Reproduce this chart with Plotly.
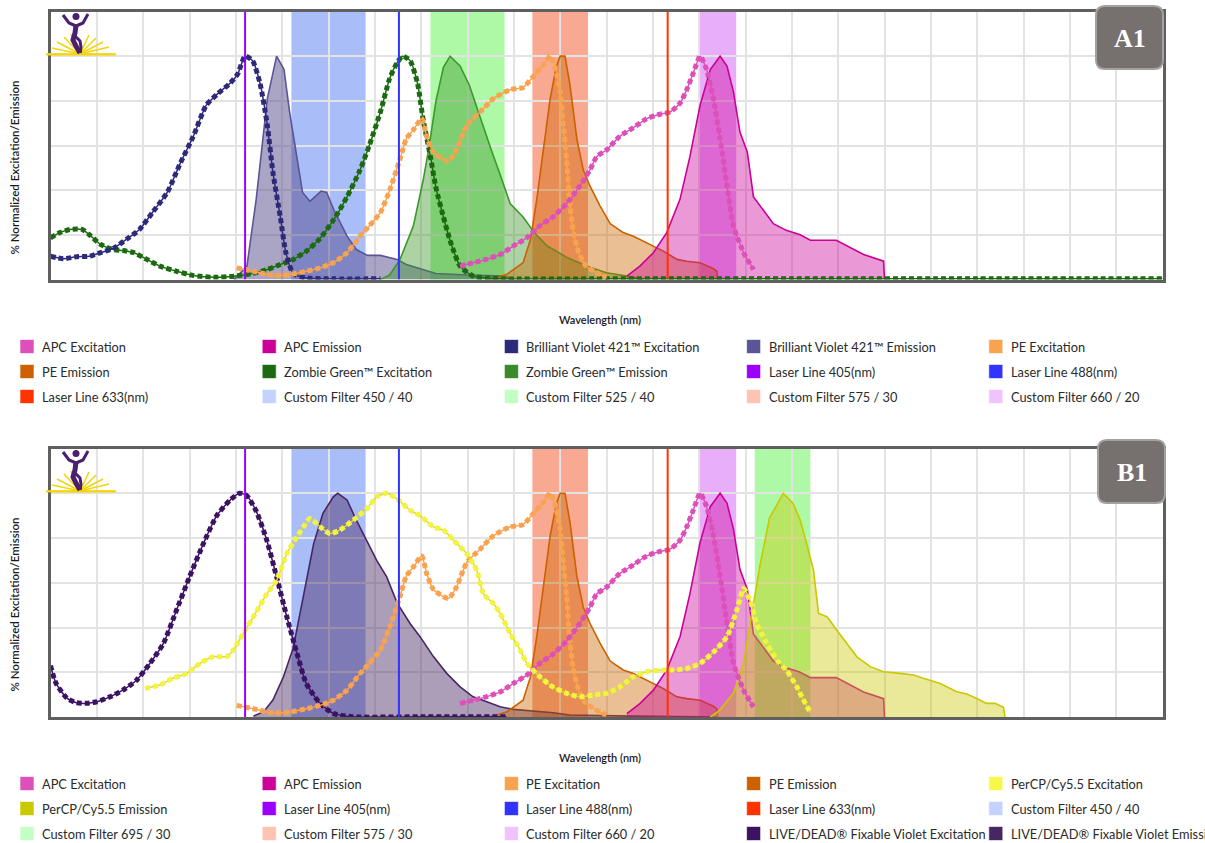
import plotly.graph_objects as go

# ======================= DATA =======================
# Panel A1 ------------------------------------------------
bv_ex_wl = [300, 307, 314, 321, 327, 334, 341, 348, 355, 363, 370, 377, 384, 390, 397, 401, 405, 409, 413, 417, 420, 424, 427, 431, 438, 453, 478]
bv_ex_v = [10.4, 9.3, 10.2, 10.4, 12, 14, 18, 22.4, 30, 39, 52, 64, 78, 83, 88, 92, 100, 98, 88, 69, 48, 28, 12, 2.7, 0.7, 0.3, 0.3]

bv_em_wl = [399, 406, 411, 417, 422, 426, 429, 433, 436, 440, 446, 449, 453, 456, 460, 465, 471, 478, 487, 492, 501, 508, 525, 545, 550]
bv_em_v = [0, 6, 36, 81, 100, 94, 75, 55, 39, 35, 39.6, 39, 31, 26, 19.4, 13.4, 10.8, 10.8, 9, 6.7, 4.5, 2.7, 2, 1.5, 0]

zg_ex_wl = [300, 305, 310.5, 317, 321, 327, 334, 339, 345, 352, 359, 368, 377, 388, 399, 409, 417, 424, 431, 438, 445, 453, 460, 467, 472, 478, 483, 487, 490, 494, 498, 501, 505, 508, 512, 516, 521, 528, 535, 543, 600, 700, 800, 900]
zg_ex_v = [18.7, 21, 22.4, 22.4, 20, 15.7, 13.4, 13, 12, 9, 6, 3.7, 1.8, 1, 1.5, 2.7, 4.5, 6.7, 9, 12.7, 18, 27, 37, 49, 60, 75, 90, 97, 100, 98, 88, 72, 55, 41, 28, 16.4, 6, 1.5, 0.7, 0.3, 0.3, 0.3, 0.3, 0.3]

zg_em_wl = [478, 483, 488.6, 495.8, 501.2, 504, 508, 512, 515.6, 521, 526, 532, 537, 543, 548, 555, 561, 568, 579, 589, 600, 611, 616, 620]
zg_em_v = [0, 2, 9, 24, 45, 58, 80, 95, 100, 95.6, 87, 72, 60, 46, 34, 28, 21, 15, 9.7, 6, 3, 1.5, 0.7, 0]

pe_ex_wl = [400.5, 409.5, 420, 429, 438, 445.5, 452.6, 460, 467, 472, 478, 483, 488.6, 492, 495.8, 500.3, 503, 506.6, 514.7, 519, 524.6, 531.8, 539, 548, 555, 560.6, 566, 569.6, 572, 575, 576.7, 578.5, 580, 582, 585, 589, 596.5, 600]
pe_ex_v = [5.2, 3.7, 1.8, 2.2, 3.7, 5.2, 7.5, 12, 19.4, 24, 30, 40, 54, 63, 67, 72, 64, 57, 53, 58, 69, 75, 81, 85, 86, 91, 96, 100, 95.6, 84, 69, 54, 36, 22, 12, 6, 2.2, 1]

pe_em_wl = [537, 546, 555, 559, 562.4, 566, 569.6, 573, 575, 577.6, 580.3, 584, 587.5, 591, 596.5, 602, 609, 614.5, 621.7, 630.7, 638, 643.3, 650.5, 657.7, 659.5, 660]
pe_em_v = [0, 2.2, 7.5, 18, 36, 58, 81, 95.6, 100, 100, 87, 63, 49, 42, 33, 25, 21, 19.4, 16.4, 12.7, 9, 8.2, 7.5, 4.8, 3.7, 0]

apc_ex_wl = [521, 528, 535, 542.6, 549.8, 557, 564, 571, 578.5, 585.7, 591, 594.7, 600, 607, 614.5, 621.7, 628.9, 634.3, 639.7, 643.3, 646.9, 650.5, 654, 657.7, 661.3, 665, 668.5, 674, 679.3]
apc_ex_v = [6, 7.5, 9, 11.2, 15, 18.7, 24, 28, 34, 42, 49, 55, 58, 64, 68, 72, 74, 75, 79, 85, 92.6, 100, 94, 81, 63, 42, 24, 12, 4.5]

apc_em_wl = [611, 618, 625.3, 632.5, 639.7, 645, 650.5, 656, 661.3, 665, 668.5, 672, 676, 679.3, 684.7, 690, 697, 704.5, 710, 724, 738.7, 749.5, 750]
apc_em_v = [1.5, 6, 12, 21, 36, 55, 78, 94, 100, 95.6, 84, 66, 57, 37, 31, 25, 22, 20, 17.6, 17.6, 11.2, 8.2, 0]

# Panel B1 ------------------------------------------------
ld_ex_wl = [300, 303, 309, 314, 319.5, 325, 332, 339, 346.5, 353.7, 361, 368, 375, 382.5, 389.7, 397, 402, 405.8, 411, 416.7, 422, 427.5, 433, 438, 445.5, 452.6, 463, 500, 546]
ld_ex_v = [23, 15, 8.3, 6.4, 6.1, 6.8, 9, 12, 16.5, 24, 33, 47.8, 62.6, 77.5, 90, 97, 100, 99, 92, 79, 62.6, 44.8, 28.4, 15, 6, 1.6, 0.1, 0.1, 0.1]

ld_em_wl = [409.5, 415, 420, 425.7, 431, 436.5, 442, 447, 452.6, 455, 460, 465, 470.6, 476, 481.4, 487, 494, 499.4, 506.6, 513.8, 521, 528, 535.4, 542.6, 549.8, 560.6, 571.3, 580.3, 596.5, 614, 650, 660]
ld_em_v = [0.4, 2.4, 7.6, 18, 31, 53.7, 77.5, 91, 98.4, 100, 97, 88, 79, 70, 62.6, 51, 41.8, 35.9, 27, 19.5, 13.5, 9, 6.8, 4.6, 3.4, 2.8, 1.9, 0.9, 0.6, 0.4, 0.1, 0]

pcp_ex_wl = [351, 359, 366, 373.5, 380.7, 388, 395, 398.7, 404, 409.5, 416.7, 422, 427.5, 433, 436.5, 440, 445.5, 450.8, 456, 463.4, 470.6, 476, 481.4, 486.8, 494, 499.4, 506.6, 512, 517.4, 524.6, 530, 533.6, 539, 542.6, 548, 553.4, 557, 564, 571, 578.5, 585.7, 593, 600, 607.3, 614.5, 621.7, 629, 636, 643.3, 650.5, 657.7, 665, 670.3, 674, 677.5, 681, 686.5, 692, 697, 702.7, 706, 710]
pcp_ex_v = [12.8, 14.3, 17.3, 19.5, 24, 27, 27, 30, 37.4, 44.8, 55, 61, 73, 80.5, 85, 88.7, 85, 82, 83.5, 88, 93, 98.4, 100, 97.6, 92.4, 90, 85, 83.5, 79, 73, 65.6, 55, 50.7, 46.3, 37.4, 30, 24, 18, 13.5, 10.6, 9, 9.8, 10.6, 13.5, 18, 20.2, 21, 21, 21.7, 24, 29, 35.9, 47.8, 57.4, 52, 41.8, 32.9, 25.4, 21, 13.5, 8, 2]

pcp_em_wl = [656, 661, 668.5, 674, 677.5, 683, 688, 695.4, 700.7, 704.5, 708, 711.7, 714.4, 719, 724.3, 729.7, 735, 742.3, 749.5, 758.5, 765.7, 771, 780, 789, 794.4, 799.8, 805, 809.7, 814.2, 815]
pcp_em_v = [0, 3, 10.6, 24, 41.8, 68.6, 89, 100, 95.4, 88, 77.5, 65.6, 46.3, 44.8, 38.8, 32.9, 27, 22.5, 20.2, 19.5, 18.8, 17.3, 15, 11.3, 10.3, 8.3, 6.1, 6.1, 4.3, 0]

# Lasers and filters
lasers_nm = [405, 488, 633]
filters_A_center = [450, 525, 575, 660]
filters_A_width = [40, 40, 30, 20]
filters_B_center = [450, 575, 660, 695]
filters_B_width = [40, 30, 20, 30]

legend_A = ["APC Excitation", "APC Emission", "Brilliant Violet 421™ Excitation", "Brilliant Violet 421™ Emission", "PE Excitation",
            "PE Emission", "Zombie Green™ Excitation", "Zombie Green™ Emission", "Laser Line 405(nm)", "Laser Line 488(nm)",
            "Laser Line 633(nm)", "Custom Filter 450 / 40", "Custom Filter 525 / 40", "Custom Filter 575 / 30", "Custom Filter 660 / 20"]
legend_B = ["APC Excitation", "APC Emission", "PE Excitation", "PE Emission", "PerCP/Cy5.5 Excitation",
            "PerCP/Cy5.5 Emission", "Laser Line 405(nm)", "Laser Line 488(nm)", "Laser Line 633(nm)", "Custom Filter 450 / 40",
            "Custom Filter 695 / 30", "Custom Filter 575 / 30", "Custom Filter 660 / 20", "LIVE/DEAD® Fixable Violet Excitation", "LIVE/DEAD® Fixable Violet Emission"]
panel_labels = ["A1", "B1"]
x_title = "Wavelength (nm)"
y_title = "% Normalized Excitation/Emission"

# ======================= STYLE =======================
W, H = 1205, 843
PX0, PX1 = 50.5, 1162.5
PANELS = [(11.5, 279.5), (448.5, 717.0)]

C = {
    "apc_ex": "#dd4fb9", "apc_em": "#cc0099", "bv_ex": "#2e2a7a", "bv_em": "#5a5596",
    "pe_ex": "#f9a24f", "pe_em": "#cc6100", "zg_ex": "#1b6a10", "zg_em": "#3a9a2a",
    "ld_ex": "#3c1262", "ld_em": "#472664", "pcp_ex": "#f4f43c", "pcp_em": "#c9c900",
}
EM_FILL = {
    "bv_em": "rgba(85,75,139,0.5)", "zg_em": "rgba(60,150,40,0.42)", "pe_em": "rgba(204,102,0,0.42)",
    "apc_em": "rgba(204,0,153,0.4)", "ld_em": "rgba(70,40,100,0.45)", "pcp_em": "rgba(200,200,0,0.4)",
}
LASER_C = ["#9900ff", "#3333ff", "#ff3300"]
FILTER_C = {450: "#a9bef8", 525: "#adf9a5", 575: "#f9a891", 660: "#e9aefa", 695: "#adf9a5"}
LEG_FILTER_C = {450: "#c3d2ff", 525: "#c3ffc3", 575: "#ffc3b3", 660: "#f0c3ff", 695: "#c3ffc3"}

LEG_A_COL = [C["apc_ex"], C["apc_em"], C["bv_ex"], C["bv_em"], C["pe_ex"], C["pe_em"], C["zg_ex"], "#3a8a2a",
             LASER_C[0], LASER_C[1], LASER_C[2], LEG_FILTER_C[450], LEG_FILTER_C[525], LEG_FILTER_C[575], LEG_FILTER_C[660]]
LEG_B_COL = [C["apc_ex"], C["apc_em"], C["pe_ex"], C["pe_em"], "#f8f848", C["pcp_em"], LASER_C[0], LASER_C[1], LASER_C[2],
             LEG_FILTER_C[450], LEG_FILTER_C[695], LEG_FILTER_C[575], LEG_FILTER_C[660], C["ld_ex"], C["ld_em"]]

FONT = "Lato"


def px(x):
    return x / W


def py(y):
    return 1 - y / H


fig = go.Figure()


def add_em(wl, v, key, ax):
    fig.add_trace(go.Scatter(x=wl, y=v, mode="lines", fill="tozeroy", fillcolor=EM_FILL[key],
                             line=dict(color=C[key], width=1.6), xaxis="x" + ax, yaxis="y" + ax,
                             showlegend=False, hoverinfo="skip"))


def add_ex(wl, v, key, ax, thin=None):
    fig.add_trace(go.Scatter(x=wl, y=v, mode="lines", line=dict(color=thin or C[key], width=1.5, shape="spline", smoothing=0.6),
                             xaxis="x" + ax, yaxis="y" + ax, showlegend=False, hoverinfo="skip"))
    fig.add_trace(go.Scatter(x=wl, y=v, mode="lines", line=dict(color=C[key], width=5, dash="5px,3px", shape="spline", smoothing=0.6),
                             xaxis="x" + ax, yaxis="y" + ax, showlegend=False, hoverinfo="skip"))


def add_lasers(ax):
    for wl, col in zip(lasers_nm, LASER_C):
        fig.add_trace(go.Scatter(x=[wl, wl], y=[0, 120], mode="lines", line=dict(color=col, width=2),
                                 xaxis="x" + ax, yaxis="y" + ax, showlegend=False, hoverinfo="skip"))


# ---- Panel A ----
add_em(bv_em_wl, bv_em_v, "bv_em", "")
add_em(zg_em_wl, zg_em_v, "zg_em", "")
add_em(pe_em_wl, pe_em_v, "pe_em", "")
add_em(apc_em_wl, apc_em_v, "apc_em", "")
add_ex(zg_ex_wl, zg_ex_v, "zg_ex", "")
add_ex(bv_ex_wl, bv_ex_v, "bv_ex", "")
add_ex(pe_ex_wl, pe_ex_v, "pe_ex", "")
add_ex(apc_ex_wl, apc_ex_v, "apc_ex", "")
add_lasers("")

# ---- Panel B ----
add_em(ld_em_wl, ld_em_v, "ld_em", "2")
add_em(pe_em_wl, pe_em_v, "pe_em", "2")
add_em(apc_em_wl, apc_em_v, "apc_em", "2")
add_em(pcp_em_wl, pcp_em_v, "pcp_em", "2")
add_ex(ld_ex_wl, ld_ex_v, "ld_ex", "2")
add_ex(pe_ex_wl, pe_ex_v, "pe_ex", "2")
add_ex(apc_ex_wl, apc_ex_v, "apc_ex", "2")
add_ex(pcp_ex_wl, pcp_ex_v, "pcp_ex", "2", thin="#d8d84a")
add_lasers("2")

shapes = []
annotations = []

# Filters
for centers, widths, xr, yr in [(filters_A_center, filters_A_width, "x", "y domain"),
                                (filters_B_center, filters_B_width, "x2", "y2 domain")]:
    for c, w in zip(centers, widths):
        shapes.append(dict(type="rect", xref=xr, yref=yr, x0=c - w / 2, x1=c + w / 2, y0=0, y1=1,
                           fillcolor=FILTER_C[c], line=dict(width=0), layer="below"))

# Logo, badge, titles, legend per panel
for i, (top, bot) in enumerate(PANELS):
    dy = top - 11.5
    # logo rays
    cx, cy = 80, 54 + dy
    for ex, ey in [(47, 54), (52, 48), (57, 42), (64, 37), (71, 34), (89, 35), (96, 38), (103, 42), (109, 47), (115, 54)]:
        shapes.append(dict(type="line", xref="paper", yref="paper", x0=px(cx), y0=py(cy), x1=px(ex), y1=py(ey + dy),
                           line=dict(color="#f5d50a", width=1.6)))
    shapes.append(dict(type="line", xref="paper", yref="paper", x0=px(46), y0=py(54.5 + dy), x1=px(116), y1=py(54.5 + dy),
                       line=dict(color="#f5d50a", width=2)))
    # figure
    shapes.append(dict(type="circle", xref="paper", yref="paper", x0=px(72.5), x1=px(79.5), y0=py(13 + dy), y1=py(20 + dy),
                       fillcolor="#4a1f6e", line=dict(width=0)))
    pts_arms = [(63, 15), (69, 23), (76, 26), (83, 23), (88, 14)]
    pts_body = [(76, 25), (75, 33), (73, 40), (76, 46), (80, 53)]
    pts_leg = [(75, 36), (80, 41), (81, 47), (80, 53)]
    for pts, wdt in [(pts_arms, 3), (pts_body, 5), (pts_leg, 3)]:
        path = "M " + " L ".join(f"{px(x)},{py(y + dy)}" for x, y in pts)
        shapes.append(dict(type="path", xref="paper", yref="paper", path=path, line=dict(color="#4a1f6e", width=wdt)))

    # badge
    bx0, bx1 = 1096 + 2 * i, 1163 + 2 * i
    by0, by1 = 6 + dy - 3 * i, 69 + dy - 3 * i
    r = 9

    def P(x, y):
        return f"{px(x)},{py(y)}"
    path = (f"M {P(bx0 + r, by0)} L {P(bx1 - r, by0)} Q {P(bx1, by0)} {P(bx1, by0 + r)} "
            f"L {P(bx1, by1 - r)} Q {P(bx1, by1)} {P(bx1 - r, by1)} L {P(bx0 + r, by1)} "
            f"Q {P(bx0, by1)} {P(bx0, by1 - r)} L {P(bx0, by0 + r)} Q {P(bx0, by0)} {P(bx0 + r, by0)} Z")
    shapes.append(dict(type="path", xref="paper", yref="paper", path=path, fillcolor="#76716f",
                       line=dict(color="#a4a2a1", width=2), layer="above"))
    annotations.append(dict(xref="paper", yref="paper", x=px((bx0 + bx1) / 2), y=py((by0 + by1) / 2 + 1),
                            text=f"<b>{panel_labels[i]}</b>", showarrow=False, xanchor="center", yanchor="middle",
                            font=dict(family="Liberation Serif", size=26, color="white")))

    # axis titles
    annotations.append(dict(xref="paper", yref="paper", x=px(600), y=py(bot + 40), text=x_title, showarrow=False,
                            xanchor="center", yanchor="middle", font=dict(family=FONT, size=11, color="#1a1a1a", weight=600)))
    annotations.append(dict(xref="paper", yref="paper", x=px(14), y=py(top + 156), text=y_title, showarrow=False,
                            textangle=-90, xanchor="center", yanchor="middle",
                            font=dict(family=FONT, size=11.5, color="#1a1a1a", weight=600)))

    # legend
    labels = legend_A if i == 0 else legend_B
    cols = LEG_A_COL if i == 0 else LEG_B_COL
    row0 = 347 if i == 0 else 784
    for k, (lab, col) in enumerate(zip(labels, cols)):
        cx0 = 20 + 242.2 * (k % 5)
        ry = row0 + 25 * (k // 5)
        shapes.append(dict(type="rect", xref="paper", yref="paper", x0=px(cx0), x1=px(cx0 + 14), y0=py(ry - 7.5), y1=py(ry + 6.5),
                           fillcolor=col, line=dict(color="rgba(255,255,255,0.6)", width=1)))
        annotations.append(dict(xref="paper", yref="paper", x=px(cx0 + 20), y=py(ry), text=lab, showarrow=False,
                                xanchor="left", yanchor="middle", font=dict(family=FONT, size=12.8, color="#2a2a2a")))

axis_common = dict(showgrid=True, gridcolor="#e3e3e3", gridwidth=1.5, zeroline=False, showticklabels=False, ticks="",
                   showline=True, mirror=True, linecolor="#5f5f5f", linewidth=2.5)

fig.update_layout(
    width=W, height=H, margin=dict(l=0, r=0, t=0, b=0), paper_bgcolor="white", plot_bgcolor="white",
    showlegend=False, shapes=shapes, annotations=annotations,
    xaxis=dict(domain=[px(PX0), px(PX1)], range=[300, 900], tick0=300, dtick=25, anchor="y", **axis_common),
    yaxis=dict(domain=[py(PANELS[0][1]), py(PANELS[0][0])], range=[0, 120], dtick=20, anchor="x", **axis_common),
    xaxis2=dict(domain=[px(PX0), px(PX1)], range=[300, 900], tick0=300, dtick=25, anchor="y2", **axis_common),
    yaxis2=dict(domain=[py(PANELS[1][1]), py(PANELS[1][0])], range=[0, 120], dtick=20, anchor="x2", **axis_common),
)

fig.write_html("out.html", config={"displayModeBar": False},
               post_script="document.body.style.margin='0px';document.body.style.overflow='hidden';")
